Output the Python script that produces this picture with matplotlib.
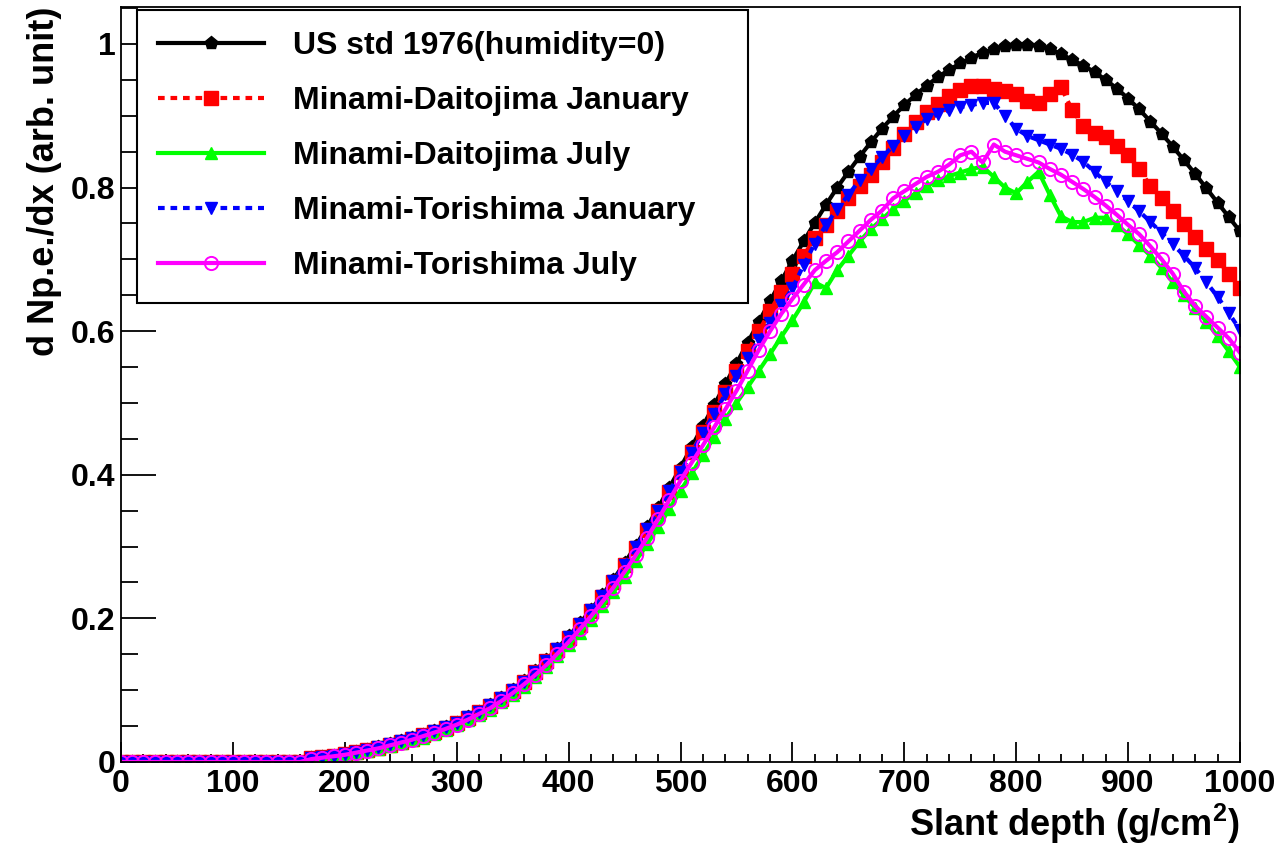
import numpy as np
import matplotlib
matplotlib.use("Agg")
import matplotlib.pyplot as plt
from matplotlib.ticker import MultipleLocator

plt.rcParams['font.family'] = ['Liberation Sans', 'DejaVu Sans']
plt.rcParams['font.weight'] = 'bold'
plt.rcParams['mathtext.fontset'] = 'custom'
plt.rcParams['mathtext.bf'] = 'Liberation Sans:bold'
plt.rcParams['mathtext.rm'] = 'Liberation Sans:bold'
plt.rcParams['mathtext.default'] = 'bf'

# Data: slant depth every 10 g/cm2 ##################
depth = np.arange(0, 1001, 10)

zeros = [0.0] * 17  # 0 .. 160

us_std = zeros + [
    0.005, 0.007, 0.009, 0.011, 0.014, 0.017, 0.021, 0.025, 0.029, 0.033,
    0.038, 0.043, 0.049, 0.055, 0.062, 0.070, 0.079, 0.089, 0.100, 0.113,
    0.127, 0.142, 0.158, 0.175, 0.193, 0.212, 0.232, 0.254, 0.277, 0.301,
    0.327, 0.354, 0.382, 0.410,
    0.439, 0.468, 0.497, 0.526, 0.555, 0.584, 0.613, 0.642, 0.670, 0.698,
    0.725, 0.751, 0.776, 0.800, 0.822, 0.843, 0.863, 0.882, 0.899, 0.915,
    0.929, 0.942, 0.954, 0.964, 0.973, 0.981, 0.988, 0.993, 0.997, 0.999,
    0.999, 0.997, 0.993, 0.986, 0.978, 0.970, 0.961, 0.950, 0.938, 0.924,
    0.909, 0.892, 0.875, 0.857, 0.838, 0.819, 0.799, 0.779, 0.759, 0.739]

daito_jan = zeros + [
    0.005, 0.007, 0.009, 0.011, 0.014, 0.017, 0.020, 0.024, 0.028, 0.032,
    0.037, 0.042, 0.048, 0.054, 0.061, 0.069, 0.078, 0.088, 0.099, 0.111,
    0.125, 0.140, 0.156, 0.173, 0.191, 0.210, 0.230, 0.251, 0.274, 0.298,
    0.323, 0.349, 0.376, 0.404,
    0.432, 0.460, 0.488, 0.516, 0.544, 0.572, 0.600, 0.628, 0.655, 0.680,
    0.705, 0.730, 0.748, 0.767, 0.786, 0.802, 0.818, 0.836, 0.855, 0.874,
    0.891, 0.905, 0.917, 0.927, 0.936, 0.942, 0.942, 0.938, 0.935, 0.930,
    0.921, 0.918, 0.930, 0.940, 0.908, 0.886, 0.876, 0.870, 0.858, 0.845,
    0.826, 0.802, 0.786, 0.767, 0.749, 0.731, 0.715, 0.699, 0.680, 0.660]

daito_jul = zeros + [
    0.004, 0.006, 0.008, 0.010, 0.012, 0.015, 0.018, 0.022, 0.026, 0.030,
    0.034, 0.039, 0.045, 0.051, 0.058, 0.065, 0.073, 0.083, 0.093, 0.105,
    0.118, 0.132, 0.147, 0.163, 0.180, 0.198, 0.217, 0.237, 0.258, 0.280,
    0.303, 0.327, 0.352, 0.378,
    0.402, 0.427, 0.453, 0.478, 0.500, 0.522, 0.545, 0.568, 0.592, 0.615,
    0.640, 0.668, 0.660, 0.685, 0.705, 0.725, 0.742, 0.756, 0.770, 0.782,
    0.792, 0.802, 0.810, 0.816, 0.821, 0.826, 0.829, 0.815, 0.800, 0.792,
    0.808, 0.822, 0.790, 0.760, 0.752, 0.752, 0.758, 0.758, 0.748, 0.735,
    0.720, 0.705, 0.688, 0.668, 0.650, 0.632, 0.613, 0.593, 0.572, 0.550]

tori_jan = zeros + [
    0.005, 0.007, 0.009, 0.011, 0.014, 0.017, 0.021, 0.025, 0.029, 0.033,
    0.038, 0.043, 0.049, 0.055, 0.062, 0.070, 0.079, 0.089, 0.100, 0.112,
    0.126, 0.141, 0.157, 0.174, 0.192, 0.211, 0.231, 0.252, 0.275, 0.299,
    0.324, 0.350, 0.377, 0.404,
    0.431, 0.458, 0.485, 0.512, 0.538, 0.563, 0.588, 0.612, 0.636, 0.660,
    0.692, 0.722, 0.748, 0.770, 0.790, 0.810, 0.826, 0.842, 0.858, 0.872,
    0.885, 0.895, 0.902, 0.908, 0.912, 0.915, 0.918, 0.918, 0.900, 0.882,
    0.872, 0.866, 0.860, 0.854, 0.846, 0.836, 0.822, 0.808, 0.795, 0.781,
    0.767, 0.752, 0.737, 0.721, 0.705, 0.688, 0.668, 0.648, 0.625, 0.602]

tori_jul = zeros + [
    0.004, 0.006, 0.008, 0.010, 0.013, 0.016, 0.019, 0.023, 0.027, 0.031,
    0.036, 0.041, 0.046, 0.052, 0.059, 0.067, 0.075, 0.085, 0.096, 0.108,
    0.121, 0.135, 0.151, 0.167, 0.185, 0.203, 0.223, 0.243, 0.265, 0.288,
    0.312, 0.338, 0.365, 0.392,
    0.417, 0.441, 0.466, 0.491, 0.517, 0.545, 0.574, 0.600, 0.624, 0.645,
    0.665, 0.685, 0.698, 0.710, 0.725, 0.740, 0.755, 0.768, 0.785, 0.795,
    0.805, 0.815, 0.822, 0.832, 0.845, 0.850, 0.835, 0.860, 0.850, 0.845,
    0.840, 0.835, 0.826, 0.818, 0.808, 0.798, 0.787, 0.775, 0.762, 0.748,
    0.735, 0.718, 0.700, 0.680, 0.655, 0.635, 0.620, 0.605, 0.590, 0.570]

labels = ['US std 1976(humidity=0)', 'Minami-Daitojima January',
          'Minami-Daitojima July', 'Minami-Torishima January',
          'Minami-Torishima July']
###################################################

fig = plt.figure(figsize=(12.83, 8.46), dpi=100)
ax = fig.add_axes([0.0943, 0.0993, 0.8722, 0.8924])

ax.plot(depth, us_std, '-', color='black', lw=3, marker='p', ms=9.5, label=labels[0])
ax.plot(depth, daito_jan, color='red', lw=3, ls=(0, (1.6, 1.4)), marker='s', ms=9.5,
        label=labels[1])
ax.plot(depth, daito_jul, '-', color='#00ff00', lw=3, marker='^', ms=9, label=labels[2])
ax.plot(depth, tori_jan, color='blue', lw=3, ls=(0, (1.6, 1.4)), marker='v', ms=9,
        label=labels[3])
ax.plot(depth, tori_jul, '-', color='magenta', lw=3, marker='o', ms=9.5,
        mfc='none', mew=1.4, label=labels[4])

ax.set_xlim(0, 1000)
ax.set_ylim(0, 1.0515)
ax.xaxis.set_major_locator(MultipleLocator(100))
ax.xaxis.set_minor_locator(MultipleLocator(20))
ax.yaxis.set_major_locator(MultipleLocator(0.2))
ax.yaxis.set_minor_locator(MultipleLocator(0.05))
ax.set_yticks([0, 0.2, 0.4, 0.6, 0.8, 1.0])
ax.set_yticklabels(['0', '0.2', '0.4', '0.6', '0.8', '1'])

ax.tick_params(axis='x', which='major', direction='in', length=14.5, width=1.3,
               labelsize=23, pad=5, top=False)
ax.tick_params(axis='x', which='minor', direction='in', length=6, width=1.3, top=False)
ax.tick_params(axis='y', which='major', direction='in', length=25, width=1.3,
               labelsize=23, pad=4, right=False)
ax.tick_params(axis='y', which='minor', direction='in', length=12.5, width=1.3, right=False)
for s in ax.spines.values():
    s.set_linewidth(1.3)

ax.set_xlabel('Slant depth (g/cm$^{2}$)', fontsize=26, fontweight='bold',
              loc='right', labelpad=2)
ax.set_ylabel('d Np.e./dx (arb. unit)', fontsize=26, fontweight='bold',
              loc='top', labelpad=6)

leg = ax.legend(loc='upper left', bbox_to_anchor=(0.0143, 0.625, 0.546, 0.371),
                mode='expand', borderaxespad=0, fontsize=23, handlelength=3.3,
                handletextpad=0.9, numpoints=1, fancybox=False, framealpha=1,
                edgecolor='black', labelspacing=0.78, borderpad=0.67)
leg.get_frame().set_linewidth(1.5)
leg.set_zorder(5)

plt.savefig('out.png', dpi=100)
